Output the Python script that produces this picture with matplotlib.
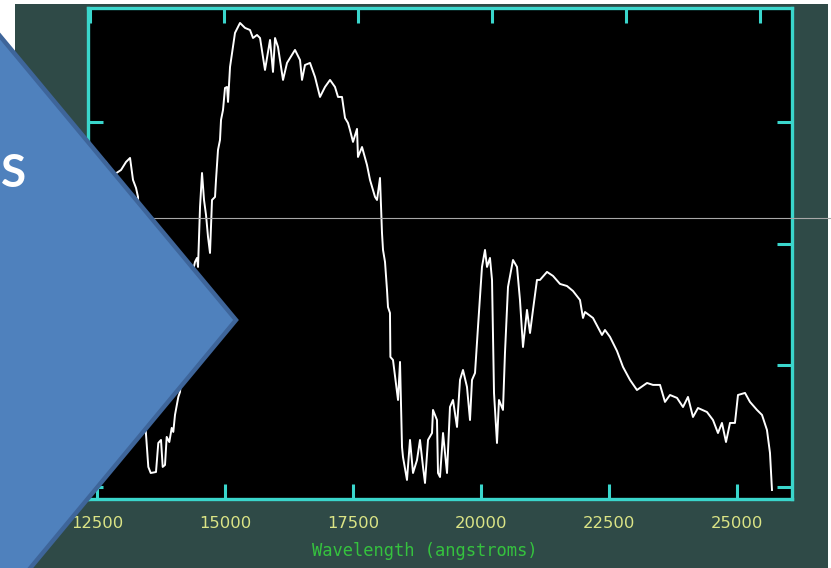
import matplotlib
matplotlib.use("Agg")
import matplotlib.pyplot as plt
from matplotlib.patches import Polygon, Rectangle

# ---------------- data ----------------
wavelength = [12324, 12442, 12559, 12676, 12793, 12910, 12969, 13067, 13145, 13203,
              13262, 13301, 13340, 13379, 13418, 13451, 13502, 13549, 13652, 13697,
              13750, 13783, 13828, 13861, 13912, 13959, 13990, 14023, 14088, 14121,
              14180, 14238, 14297, 14356, 14414, 14453, 14473, 14512, 14551, 14590,
              14629, 14668, 14707, 14746, 14805, 14824, 14863, 14902, 14922, 14961,
              15000, 15039, 15059, 15098, 15195, 15293, 15391, 15488, 15547, 15625,
              15684, 15781, 15879, 15937, 15977, 16035, 16133, 16211, 16367, 16465,
              16504, 16562, 16660, 16758, 16855, 16953, 17051, 17148, 17207, 17285,
              17344, 17402, 17441, 17500, 17578, 17597, 17676, 17773, 17832, 17930,
              17969, 18027, 18066, 18086, 18125, 18164, 18183, 18222, 18230, 18281,
              18379, 18418, 18457, 18476, 18554, 18613, 18672, 18750, 18808, 18867,
              18906, 18965, 19043, 19062, 19140, 19160, 19199, 19258, 19336, 19394,
              19453, 19531, 19590, 19648, 19726, 19785, 19824, 19883, 19941, 20019,
              20078, 20117, 20175, 20215, 20254, 20312, 20351, 20429, 20468, 20527,
              20625, 20703, 20761, 20820, 20898, 20957, 21015, 21093, 21152, 21289,
              21406, 21543, 21679, 21796, 21933, 21992, 22031, 22187, 22363, 22421,
              22519, 22656, 22773, 22910, 23046, 23242, 23359, 23496, 23593, 23691,
              23828, 23945, 24042, 24140, 24238, 24413, 24531, 24628, 24706, 24785,
              24863, 24960, 25019, 25156, 25253, 25390, 25488, 25585, 25644, 25683]
flux = [2.593, 2.642, 2.708, 2.675, 2.560, 2.593, 2.609, 2.675, 2.708, 2.527,
        2.461, 2.387, 1.868, 1.210, 0.716, 0.469, 0.165, 0.115, 0.123, 0.362,
        0.387, 0.165, 0.181, 0.412, 0.370, 0.486, 0.453, 0.593, 0.741, 0.782,
        1.045, 1.292, 1.539, 1.745, 1.852, 1.885, 1.811, 2.305, 2.584, 2.362,
        2.239, 2.058, 1.926, 2.362, 2.387, 2.527, 2.774, 2.856, 3.021, 3.103,
        3.284, 3.292, 3.169, 3.457, 3.737, 3.819, 3.778, 3.761, 3.695, 3.720,
        3.695, 3.432, 3.679, 3.416, 3.695, 3.621, 3.350, 3.490, 3.597, 3.514,
        3.350, 3.473, 3.490, 3.374, 3.210, 3.292, 3.350, 3.292, 3.210, 3.210,
        3.037, 2.996, 2.938, 2.840, 2.947, 2.716, 2.798, 2.650, 2.527, 2.387,
        2.362, 2.543, 2.091, 1.951, 1.852, 1.621, 1.481, 1.432, 1.070, 1.045,
        0.716, 1.029, 0.329, 0.247, 0.058, 0.387, 0.115, 0.222, 0.387, 0.165,
        0.033, 0.387, 0.444, 0.634, 0.551, 0.115, 0.082, 0.444, 0.115, 0.658,
        0.716, 0.494, 0.881, 0.963, 0.823, 0.551, 0.881, 0.938, 1.317, 1.811,
        1.951, 1.811, 1.885, 1.704, 0.774, 0.362, 0.716, 0.634, 1.103, 1.646,
        1.868, 1.811, 1.539, 1.152, 1.457, 1.267, 1.457, 1.704, 1.704, 1.770,
        1.737, 1.671, 1.654, 1.613, 1.539, 1.391, 1.440, 1.391, 1.251, 1.292,
        1.235, 1.119, 0.988, 0.881, 0.798, 0.856, 0.840, 0.840, 0.700, 0.757,
        0.733, 0.658, 0.741, 0.576, 0.650, 0.617, 0.551, 0.444, 0.527, 0.370,
        0.527, 0.527, 0.757, 0.774, 0.700, 0.634, 0.593, 0.469, 0.280, -0.025]

x_ticks = [12500, 15000, 17500, 20000, 22500, 25000]
x_tick_labels = ["12500", "15000", "17500", "20000", "22500", "25000"]
y_ticks = [0, 1, 2, 3]
x_label = "Wavelength (angstroms)"
slide_text = "S"

# ---------------- figure ----------------
W, H = 831, 568
fig = plt.figure(figsize=(W / 100, H / 100), dpi=100, facecolor="white")

# background (screenshot area)
bg = fig.add_axes([0, 0, 1, 1], zorder=0)
bg.set_xlim(0, W)
bg.set_ylim(H, 0)
bg.axis("off")
bg.add_patch(Rectangle((15, 4), 813, 570, facecolor="#2f4a47", edgecolor="none"))

CYAN = "#3ad6cc"
ax = fig.add_axes([88 / W, (H - 499) / H, 704 / W, 491 / H], zorder=1)
ax.set_facecolor("black")
ax.plot(wavelength, flux, color="white", lw=1.4)
ax.set_xlim(12324, 26074)
ax.set_ylim(-0.099, 3.942)
for s in ax.spines.values():
    s.set_color(CYAN)
    s.set_linewidth(2.4)
ax.set_xticks(x_ticks)
ax.set_xticklabels(x_tick_labels)
ax.set_yticks(y_ticks)
ax.tick_params(axis="both", direction="in", length=11, width=2.2, color=CYAN)
ax.tick_params(axis="x", bottom=True, top=False, labelsize=11.8,
               labelcolor="#dbe486", pad=12)
ax.tick_params(axis="y", left=True, right=True, labelleft=False, labelright=False)

# top axis ticks (slightly different spacing in the original)
def fwd(wb):
    return 12500 + 2518.7 + (wb - 15000) * 0.9552

def inv(wt):
    return 15000 + (wt - 15018.7) / 0.9552

sec = ax.secondary_xaxis("top", functions=(fwd, inv))
sec.set_xticks(x_ticks)
sec.tick_params(direction="in", length=11, width=2.2, color=CYAN, labeltop=False)
sec.spines["top"].set_visible(False)

fig.text(312 / W, 1 - 551 / H, x_label, color="#35c23e",
         family="DejaVu Sans Mono", fontsize=12.3, ha="left", va="center")

# overlay (slide elements)
ov = fig.add_axes([0, 0, 1, 1], zorder=3)
ov.set_xlim(0, W)
ov.set_ylim(H, 0)
ov.axis("off")
ov.patch.set_alpha(0)
ov.plot([0, W], [218, 218], color="#a8a8a8", lw=0.8, zorder=1)
ov.add_patch(Polygon([(-10, 24), (236, 320), (27, 572), (-10, 572)], closed=True,
                     facecolor="#4f81bd", edgecolor="#3e659a", lw=3.2, zorder=2))
ov.text(26, 187, slide_text, color="white", family="Lato", fontweight="bold",
        fontsize=33, ha="right", va="baseline", zorder=3)

fig.savefig("out.png", dpi=100, facecolor="white")
